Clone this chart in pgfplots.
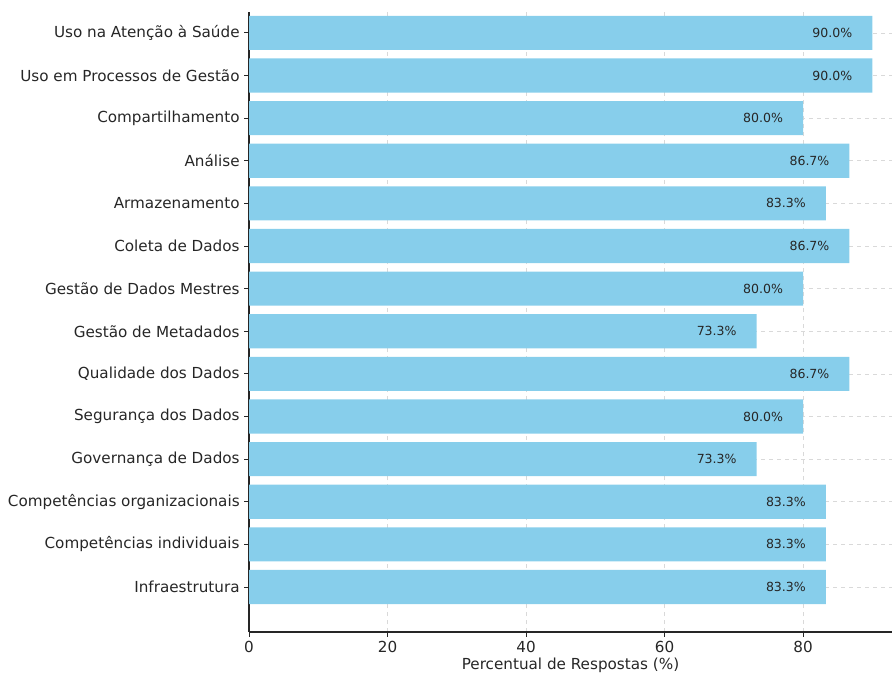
\documentclass[border=0pt]{standalone}
\usepackage{pgfplots}
\pgfplotsset{compat=1.18}
\usepackage{fontspec}
\setmainfont{DejaVu Sans}
\definecolor{barblue}{HTML}{87CEEB}
\definecolor{txt}{HTML}{262626}
\begin{document}
\begin{tikzpicture}
\begin{axis}[
  name=ax,
  scale only axis,
  width=482.25pt, height=465pt,
  xbar, bar width=0.8,
  xmin=0, xmax=92.85,
  ymin=-1.056, ymax=13.49,
  axis x line*=bottom, axis y line*=left,
  axis line style={txt, line width=0.8pt},
  xtick={0,20,40,60,80},
  ytick={0,...,13},
  yticklabels={Infraestrutura, Competências individuais, Competências organizacionais, Governança de Dados, Segurança dos Dados, Qualidade dos Dados, Gestão de Metadados, Gestão de Dados Mestres, Coleta de Dados, Armazenamento, Análise, Compartilhamento, Uso em Processos de Gestão, Uso na Atenção à Saúde},
  tick align=outside, major tick length=3.5pt,
  tick style={txt, line width=0.7pt},
  xmajorgrids, ymajorgrids,
  grid style={dashed, gray!30, line width=0.5pt},
  /pgf/number format/assume math mode=true,
  tick label style={font=\fontsize{11.4}{13}\selectfont, text=txt},
  xlabel={Percentual de Respostas (\%)},
  xlabel style={font=\fontsize{11.4}{13}\selectfont, text=txt, yshift=3pt},
  nodes near coords={\pgfmathprintnumber[fixed, fixed zerofill, precision=1]{\pgfplotspointmeta}\%},
  nodes near coords style={font=\fontsize{9.4}{11}\selectfont, text=txt, anchor=east, xshift=-11.5pt},
  point meta=x,
]
\addplot[fill=barblue, draw=none] coordinates {
(83.3,0) (83.3,1) (83.3,2) (73.3,3) (80.0,4) (86.7,5) (73.3,6) (80.0,7) (86.7,8) (83.3,9) (86.7,10) (80.0,11) (90.0,12) (90.0,13)
};
\end{axis}
\pgfresetboundingbox
\path[use as bounding box] ([xshift=-186.75pt, yshift=-30pt]ax.south west) rectangle ([yshift=9pt]ax.north east);
\end{tikzpicture}
\end{document}
